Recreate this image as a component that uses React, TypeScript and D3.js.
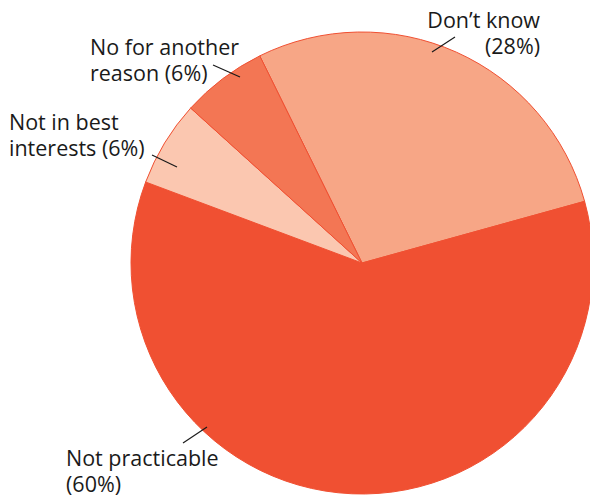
import React from "react";
import * as d3 from "d3";

const categories = ["Don’t know", "Not practicable", "Not in best interests", "No for another reason"];
const values = [28, 60, 6, 6];
const labelLines = [
  ["Don’t know", "(28%)"],
  ["Not practicable", "(60%)"],
  ["Not in best", "interests (6%)"],
  ["No for another", "reason (6%)"],
];
const colors = ["#f7a686", "#f05032", "#fbc7b0", "#f37654"];

const W = 590, H = 495;
const cx = 362, cy = 263, R = 231;

const labelPos: { anchor: string; x: number; y: number }[] = [
  { anchor: "end", x: 540, y: 28 },
  { anchor: "start", x: 66, y: 466 },
  { anchor: "start", x: 9, y: 130 },
  { anchor: "start", x: 90, y: 55 },
];
const leaders = [
  [432, 52, 455, 37],
  [183, 443, 207, 427],
  [152, 155, 177, 167],
  [213, 65, 240, 77],
];

export default function App() {
  const data = categories.map((c, i) => ({ c, v: values[i], i }));
  const pie = d3
    .pie<any>()
    .value((d) => d.v)
    .sort(null)
    .startAngle(-2 * Math.PI * 0.073)
    .endAngle(2 * Math.PI * (1 - 0.073));
  const arcs = pie(data);
  const arc = d3.arc<any>().innerRadius(0).outerRadius(R);
  return (
    <svg width={W} height={H} style={{ position: "absolute", left: 0, top: 0 }}>
      <g transform={`translate(${cx},${cy})`}>
        {arcs.map((a, i) => (
          <path key={i} d={arc(a) as string} fill={colors[i]} stroke="#f05032" strokeWidth={1} strokeLinejoin="round" />
        ))}
      </g>
      {leaders.map((l, i) => (
        <line key={i} x1={l[0]} y1={l[1]} x2={l[2]} y2={l[3]} stroke="#1a1a1a" strokeWidth={1.2} />
      ))}
      {labelLines.map((lines, i) => (
        <text
          key={i}
          x={labelPos[i].x}
          y={labelPos[i].y}
          textAnchor={labelPos[i].anchor as any}
          fontFamily="'Open Sans', 'Noto Sans', sans-serif"
          fontSize={21.5}
          fill="#1a1a1a"
        >
          {lines.map((t, j) => (
            <tspan key={j} x={labelPos[i].x} dy={j === 0 ? 0 : 26}>
              {t}
            </tspan>
          ))}
        </text>
      ))}
    </svg>
  );
}
